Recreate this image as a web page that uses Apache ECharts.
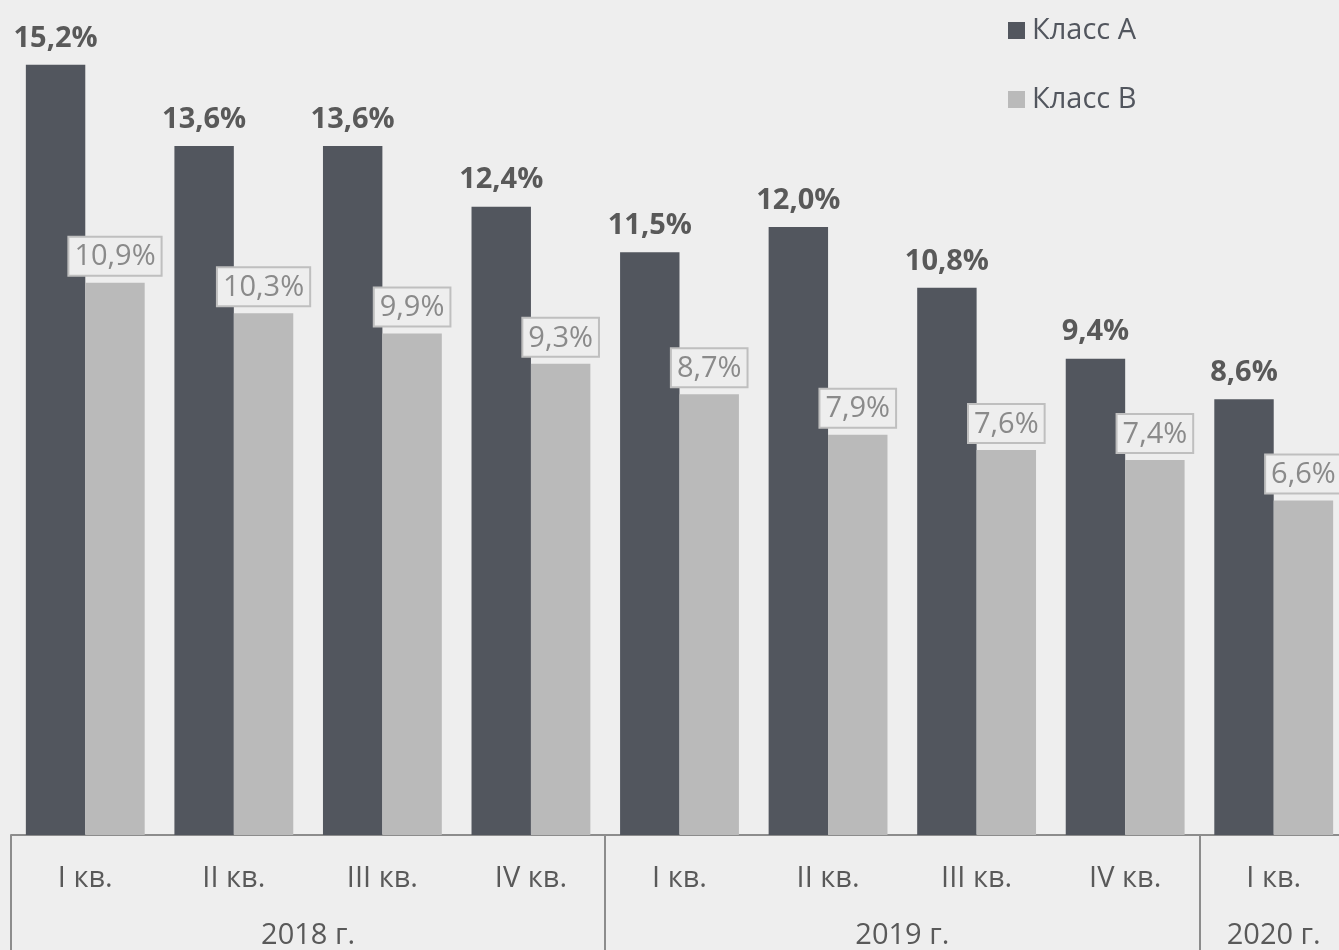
<!DOCTYPE html>
<html>
<head>
<meta charset="utf-8">
<script src="https://cdn.jsdelivr.net/npm/echarts@6/dist/echarts.min.js"></script>
<style>
html,body{margin:0;padding:0;background:#eeeeee;}
#chart{width:1339px;height:950px;}
</style>
</head>
<body>
<div id="chart"></div>
<script>
const quarters = ['I кв.', 'II кв.', 'III кв.', 'IV кв.', 'I кв.', 'II кв.', 'III кв.', 'IV кв.', 'I кв.'];
const years = ['2018 г.', '2019 г.', '2020 г.'];
const yearSpans = [4, 4, 1];
const seriesNames = ['Класс А', 'Класс В'];
const classA = [15.2, 13.6, 13.6, 12.4, 11.5, 12.0, 10.8, 9.4, 8.6];
const classB = [10.9, 10.3, 9.9, 9.3, 8.7, 7.9, 7.6, 7.4, 6.6];

const boundaries = [];
const yearPos = {};
let acc = 0;
yearSpans.forEach((s, i) => { boundaries.push(acc); yearPos[acc + s / 2] = years[i]; acc += s; });

const fmt = v => v.toFixed(1).replace('.', ',') + '%';
const FONT = "'Open Sans', sans-serif";

const chart = echarts.init(document.getElementById('chart'));
chart.setOption({
  backgroundColor: '#eeeeee',
  animation: false,
  textStyle: { fontFamily: FONT },
  grid: { left: 11, width: 1337, top: 0, height: 835, containLabel: false, outerBoundsMode: 'none' },
  legend: {
    orient: 'vertical', left: 1003, top: 11,
    itemWidth: 17, itemHeight: 17, itemGap: 40,
    icon: 'rect',
    textStyle: { fontSize: 29, color: '#52565e', fontFamily: FONT, padding: [0, 0, 0, 2] },
    data: seriesNames
  },
  xAxis: [
    {
      type: 'category', data: quarters, position: 'bottom',
      axisLine: { lineStyle: { color: '#8c8c8c', width: 2 } },
      axisTick: { show: true, length: 115, interval: (i) => boundaries.includes(i), lineStyle: { color: '#8c8c8c', width: 2 } },
      axisLabel: { fontSize: 29, color: '#595959', margin: 29, interval: 0, fontFamily: FONT }
    },
    {
      type: 'value', min: 0, max: 9, interval: 0.5, position: 'bottom',
      axisLine: { show: false }, axisTick: { show: false }, splitLine: { show: false },
      axisLabel: { fontSize: 29, color: '#595959', margin: 86, fontFamily: FONT,
        formatter: v => yearPos[v] || '' }
    }
  ],
  yAxis: { type: 'value', min: 0, max: 16.48, show: false, splitLine: { show: false } },
  series: [
    {
      name: seriesNames[0], type: 'bar', data: classA, xAxisIndex: 0,
      barGap: '0%', barCategoryGap: '20%',
      itemStyle: { color: '#52565e' },
      label: { show: true, position: 'top', distance: 12, formatter: p => fmt(p.value),
        fontSize: 29, fontWeight: 'bold', color: '#595959', fontFamily: FONT }
    },
    {
      name: seriesNames[1], type: 'bar', data: classB, xAxisIndex: 0,
      barGap: '0%', barCategoryGap: '20%',
      itemStyle: { color: '#bababa' },
      label: { show: true, position: 'top', distance: 8, formatter: p => fmt(p.value),
        fontSize: 29, color: '#8a8a8a', fontFamily: FONT,
        backgroundColor: '#eeeeee', borderColor: '#bfbfbf', borderWidth: 2, padding: [5, 5, 3, 5] }
    }
  ]
});
</script>
</body>
</html>
